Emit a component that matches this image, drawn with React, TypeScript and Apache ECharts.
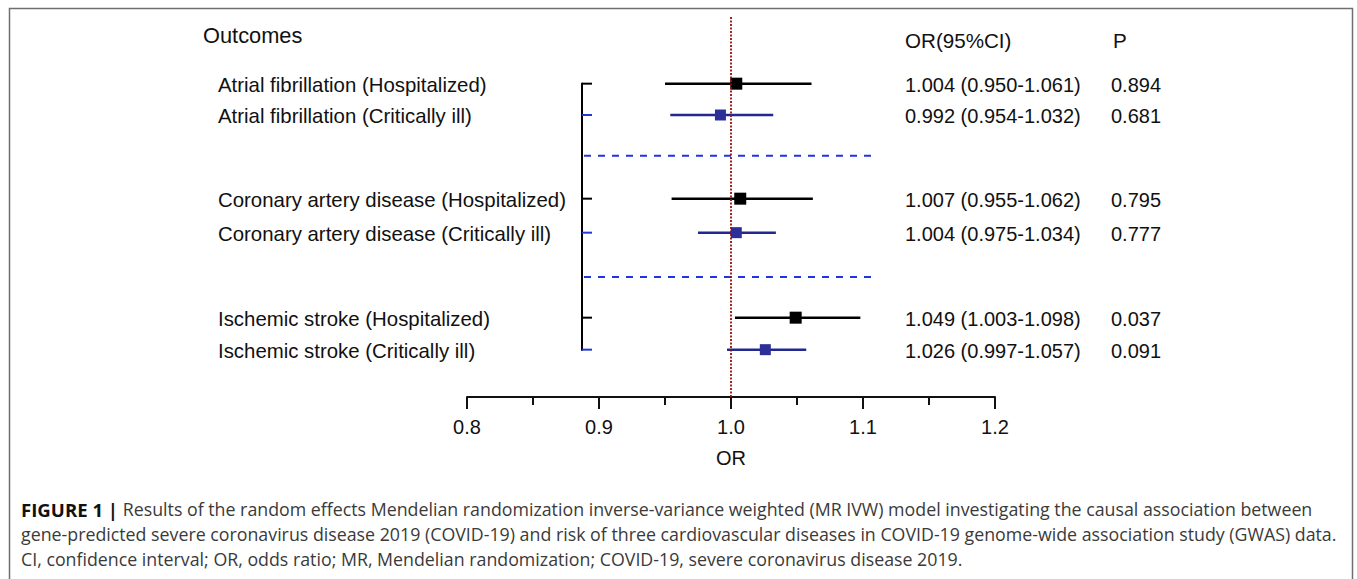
import React, { useEffect, useRef } from "react";
import * as echarts from "echarts";

// ---- data ----
const outcomes = [
  "Atrial fibrillation (Hospitalized)",
  "Atrial fibrillation (Critically ill)",
  "Coronary artery disease (Hospitalized)",
  "Coronary artery disease (Critically ill)",
  "Ischemic stroke (Hospitalized)",
  "Ischemic stroke (Critically ill)",
];
const severity = ["Hospitalized", "Critically ill", "Hospitalized", "Critically ill", "Hospitalized", "Critically ill"];
const orValues = [1.004, 0.992, 1.007, 1.004, 1.049, 1.026];
const ciLow = [0.95, 0.954, 0.955, 0.975, 1.003, 0.997];
const ciHigh = [1.061, 1.032, 1.062, 1.034, 1.098, 1.057];
const orLabels = [
  "1.004 (0.950-1.061)",
  "0.992 (0.954-1.032)",
  "1.007 (0.955-1.062)",
  "1.004 (0.975-1.034)",
  "1.049 (1.003-1.098)",
  "1.026 (0.997-1.057)",
];
const pValues = ["0.894", "0.681", "0.795", "0.777", "0.037", "0.091"];
const rowPositions = [0, 0.94, 3.45, 4.47, 7.02, 7.98];
const separatorRows = [2.16, 5.8];
const xMin = 0.8;
const xMax = 1.2;
const xInterval = 0.1;
const nullValue = 1.0;
const headers = { outcome: "Outcomes", or: "OR(95%CI)", p: "P" };
const xAxisName = "OR";
const captionLines = [
  "Results of the random effects Mendelian randomization inverse-variance weighted (MR IVW) model investigating the causal association between",
  "gene-predicted severe coronavirus disease 2019 (COVID-19) and risk of three cardiovascular diseases in COVID-19 genome-wide association study (GWAS) data.",
  "CI, confidence interval; OR, odds ratio; MR, Mendelian randomization; COVID-19, severe coronavirus disease 2019.",
];
const captionLead = "FIGURE 1 |";

// ---- layout / style ----
const W = 1357;
const H = 579;
const FONT = "Arial, 'Liberation Sans', sans-serif";
const CAP_FONT = "'Open Sans', Arial, sans-serif";
const CAP_SIZE = 17.8;
const LABEL_X = 218;
const OR_X = 905;
const P_X = 1111;
const BRACKET_X = 582;
const TICK_LEN = 10;
const SEP_END_X = 872;
const COLORS: Record<string, { line: string; box: string; tick: string; size: number }> = {
  Hospitalized: { line: "#000000", box: "#000000", tick: "#000000", size: 12 },
  "Critically ill": { line: "#23288f", box: "#2c2f98", tick: "#2137d6", size: 11 },
};

export default function App() {
  const ref = useRef<HTMLDivElement>(null);
  useEffect(() => {
    if (!ref.current) return;
    const chart = echarts.init(ref.current, null, { renderer: "svg" });

    const rowData = orValues.map((v, i) => [v, rowPositions[i], ciLow[i], ciHigh[i]]);

    const option: any = {
      animation: false,
      backgroundColor: "#ffffff",
      grid: { left: 467, right: W - 995, top: 17, bottom: H - 397, containLabel: false },
      xAxis: {
        type: "value",
        min: xMin,
        max: xMax,
        interval: xInterval,
        position: "bottom",
        name: xAxisName,
        nameLocation: "middle",
        nameGap: 51,
        nameTextStyle: { fontSize: 20, fontFamily: FONT, color: "#111" },
        axisLine: { show: true, onZero: false, lineStyle: { color: "#111", width: 2 } },
        axisTick: { show: true, inside: false, length: 12, lineStyle: { color: "#111", width: 2 } },
        minorTick: { show: true, splitNumber: 2, length: 8, lineStyle: { color: "#111", width: 2 } },
        axisLabel: {
          fontSize: 20,
          fontFamily: FONT,
          color: "#111",
          margin: 20,
          formatter: (v: number) => v.toFixed(1),
        },
        splitLine: { show: false },
      },
      yAxis: { type: "value", inverse: true, min: -2, max: 9.4, show: false },
      series: [
        {
          type: "line",
          data: [],
          silent: true,
          markLine: {
            silent: true,
            symbol: "none",
            label: { show: false },
            lineStyle: { color: "#9a0f0f", type: [2, 1.5], width: 1.8 },
            data: [{ xAxis: nullValue }],
          },
        },
        {
          // bracket + separators
          type: "custom",
          clip: false,
          silent: true,
          data: separatorRows.map((r) => [xMin, r]),
          renderItem: (params: any, api: any) => {
            const y = api.coord([xMin, api.value(1)])[1];
            const children: any[] = [
              {
                type: "line",
                shape: { x1: BRACKET_X + 2, y1: y, x2: SEP_END_X, y2: y },
                style: { stroke: "#1f35e0", lineWidth: 2, lineDash: [7, 7] },
              },
            ];
            if (params.dataIndex === 0) {
              const yTop = api.coord([xMin, rowPositions[0]])[1];
              const yBot = api.coord([xMin, rowPositions[rowPositions.length - 1]])[1];
              children.push({
                type: "line",
                shape: { x1: BRACKET_X, y1: yTop - 1, x2: BRACKET_X, y2: yBot + 1 },
                style: { stroke: "#000", lineWidth: 2 },
              });
            }
            return { type: "group", children };
          },
        },
        {
          type: "custom",
          clip: false,
          silent: true,
          data: rowData,
          renderItem: (params: any, api: any) => {
            const i = params.dataIndex;
            const c = COLORS[severity[i]];
            const center = api.coord([api.value(0), api.value(1)]);
            const lo = api.coord([api.value(2), api.value(1)]);
            const hi = api.coord([api.value(3), api.value(1)]);
            const y = center[1];
            const s = c.size;
            const txt = (text: string, x: number, size: number) => ({
              type: "text",
              x,
              y: y + 1,
              style: {
                text,
                fontSize: size,
                fontFamily: FONT,
                fill: "#111",
                verticalAlign: "middle",
                align: "left",
              },
            });
            return {
              type: "group",
              children: [
                {
                  type: "line",
                  shape: { x1: BRACKET_X, y1: y, x2: BRACKET_X + TICK_LEN, y2: y },
                  style: { stroke: c.tick, lineWidth: 2 },
                },
                {
                  type: "line",
                  shape: { x1: lo[0], y1: y, x2: hi[0], y2: y },
                  style: { stroke: c.line, lineWidth: 2.5 },
                },
                {
                  type: "rect",
                  shape: { x: center[0] - s / 2, y: y - s / 2, width: s, height: s },
                  style: { fill: c.box },
                },
                txt(outcomes[i], LABEL_X, 20.4),
                txt(orLabels[i], OR_X, 20),
                txt(pValues[i], P_X, 20),
              ],
            };
          },
        },
      ],
      graphic: [
        {
          type: "polyline",
          silent: true,
          shape: { points: [[9.5, H + 5], [9.5, 8.5], [1352.5, 8.5], [1352.5, H + 5]] },
          style: { stroke: "#6f6f6f", lineWidth: 1.5, fill: "none" },
        },
        {
          type: "text",
          x: 203,
          y: 35,
          style: { text: headers.outcome, fontSize: 21.8, fontFamily: FONT, fill: "#111", verticalAlign: "middle" },
        },
        {
          type: "text",
          x: OR_X,
          y: 40,
          style: { text: headers.or, fontSize: 20.6, fontFamily: FONT, fill: "#111", verticalAlign: "middle" },
        },
        {
          type: "text",
          x: 1113,
          y: 40,
          style: { text: headers.p, fontSize: 20.6, fontFamily: FONT, fill: "#111", verticalAlign: "middle" },
        },
        ...captionLines.map((line, k) => ({
          type: "text",
          x: 21,
          y: 509 + k * 25,
          style: {
            text: k === 0 ? `{b|${captionLead}} ${line}` : line,
            fontSize: CAP_SIZE,
            fontFamily: CAP_FONT,
            fill: "#3a3a3a",
            verticalAlign: "middle",
            rich: {
              b: { fontSize: 18.6, fontFamily: CAP_FONT, fontWeight: "bold", fill: "#111", color: "#111" },
            },
          },
        })),
      ],
    };
    chart.setOption(option);
    return () => chart.dispose();
  }, []);

  return (
    <div
      ref={ref}
      style={{ position: "fixed", left: 0, top: 0, width: W, height: H, background: "#fff" }}
    />
  );
}
